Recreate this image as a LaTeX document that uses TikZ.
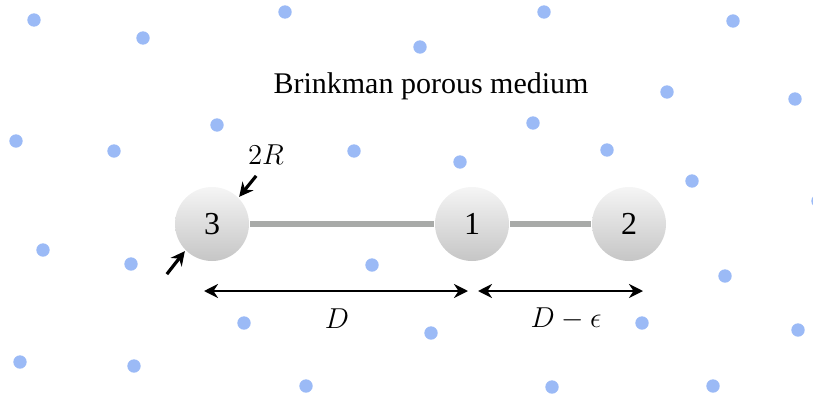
\documentclass[tikz,border=0pt]{standalone}
\usepackage[no-math]{fontspec}
\setmainfont{Liberation Serif}
\usepackage{amsmath}
\usetikzlibrary{arrows.meta,calc,backgrounds}
\definecolor{poreblue}{RGB}{155,186,246}
\definecolor{rodgray}{RGB}{168,170,168}

\begin{document}
\begin{tikzpicture}[x=0.5pt, y=-0.5pt, >={Stealth[length=7pt,width=7pt]}, line width=1.4pt]
    \tikzstyle{ball}=[circle, minimum size=37pt, inner sep=0pt, top color=gray!8, bottom color=gray!45, font=\fontsize{16}{19}\selectfont]
    \tikzstyle{lbl}=[font=\fontsize{15.5}{18}\selectfont]
    \useasboundingbox (0,0) rectangle (813,396);
    % pores of the medium
    \foreach \px/\py in {34/20, 143/38, 285/12, 544/12, 733/21, 420/47, 667/92, 795/99,
        16/141, 114/151, 217/125, 354/151, 533/123, 460/162, 607/150, 692/181, 818/201,
        43/250, 131/264, 372/265, 725/276, 244/323, 431/333, 642/323, 798/330,
        20/362, 134/366, 306/386, 552/387, 713/386}
        \fill[poreblue] (\px,\py) circle (3.35pt);
    \node[font=\fontsize{15}{18}\selectfont] (title) at (431,86) {Brinkman porous medium};
    \node[ball] (s3) at (212,224) {3};
    \node[ball, right of=s3, node distance=130pt] (s1) {1};
    \node[ball, right of=s1, node distance=78.5pt] (s2) {2};
    \begin{scope}[on background layer]
      \draw[rodgray, line width=3pt] (s3) -- (s1) -- (s2);
    \end{scope}
    % diameter
    \coordinate (rtop) at ($(s3.45)+(17,-21)$);
    \coordinate (rbot) at ($(s3.225)+(-18,23)$);
    \draw[->, line width=1.6pt] (rtop) -- (s3.45);
    \draw[->, line width=1.6pt] (rbot) -- (s3.225);
    \node[lbl] (diam) at (266,155) {$2R$};
    % distances
    \coordinate (dl) at (204,291);
    \coordinate (dm) at (468,291);
    \coordinate (el) at (478,291);
    \coordinate (er) at (643,291);
    \draw[<->] (dl) -- (dm);
    \draw[<->] (el) -- (er);
    \node[lbl] (dlab) at (337,319) {$D$};
    \node[lbl] (elab) at (566,319) {$D-\epsilon$};
\end{tikzpicture}
\end{document}
